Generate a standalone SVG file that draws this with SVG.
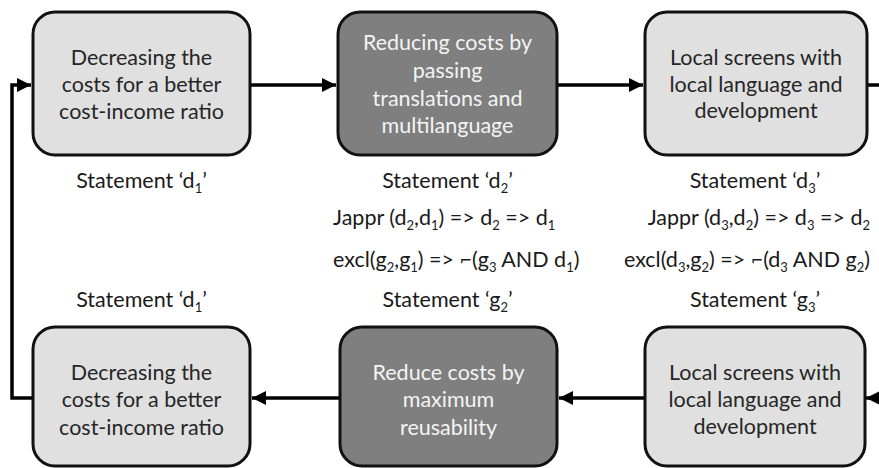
<svg xmlns="http://www.w3.org/2000/svg" width="879" height="468" viewBox="0 0 879 468">
  <style>
    .box { stroke: #111; stroke-width: 3; }
    .light { fill: #e0e0e0; }
    .dark { fill: #7f7f7f; }
    .t { font-family: Lato, "Open Sans", "DejaVu Sans", sans-serif; font-size: 21.5px; text-anchor: middle; }
    .tl { fill: #262626; }
    .td { fill: #f4f4f4; }
    .lbl { font-family: Lato, "Open Sans", "DejaVu Sans", sans-serif; font-size: 21.5px; fill: #1a1a1a; text-anchor: middle; }
    .start { text-anchor: start; }
    .end { text-anchor: end; }
    .sub { font-size: 13px; }
    .wire { fill: none; stroke: #000; stroke-width: 3.5; }
  </style>
  <defs>
    <marker id="head" viewBox="0 0 10 10" refX="10" refY="5" markerWidth="4" markerHeight="4" orient="auto" markerUnits="strokeWidth">
      <path d="M0,0 L10,5 L0,10 Z" fill="#000"/>
    </marker>
  </defs>
  <rect width="879" height="468" fill="#fff"/>

  <!-- connectors -->
  <g id="connectors">
    <line class="wire" x1="250" y1="85" x2="336" y2="85" marker-end="url(#head)"/>
    <line class="wire" x1="557" y1="85" x2="643" y2="85" marker-end="url(#head)"/>
    <line class="wire" x1="867" y1="85" x2="879" y2="85"/>
    <line class="wire" x1="879" y1="398" x2="866" y2="398" marker-end="url(#head)"/>
    <line class="wire" x1="645" y1="398" x2="559" y2="398" marker-end="url(#head)"/>
    <line class="wire" x1="340" y1="398" x2="252" y2="398" marker-end="url(#head)"/>
    <path class="wire" d="M33,398 H12 V85 H31" marker-end="url(#head)"/>
  </g>

  <!-- top row -->
  <g id="n-top-1">
    <rect class="box light" x="33" y="12" width="217" height="143" rx="22"/>
    <text class="t tl" x="141.5" y="65">Decreasing the</text>
    <text class="t tl" x="141.5" y="92">costs for a better</text>
    <text class="t tl" x="141.5" y="119">cost-income ratio</text>
  </g>
  <g id="n-top-2">
    <rect class="box dark" x="338" y="12" width="219" height="143" rx="22"/>
    <text class="t td" x="447.5" y="50">Reducing costs by</text>
    <text class="t td" x="447.5" y="78">passing</text>
    <text class="t td" x="447.5" y="106">translations and</text>
    <text class="t td" x="447.5" y="133">multilanguage</text>
  </g>
  <g id="n-top-3">
    <rect class="box light" x="645" y="12" width="222" height="143" rx="22"/>
    <text class="t tl" x="756" y="65">Local screens with</text>
    <text class="t tl" x="756" y="92">local language and</text>
    <text class="t tl" x="756" y="118">development</text>
  </g>

  <!-- statements and relations -->
  <g id="labels">
    <text class="lbl" x="141.5" y="188">Statement ‘d<tspan class="sub" dy="5">1</tspan><tspan dy="-5">’</tspan></text>
    <text class="lbl" x="447.5" y="188">Statement ‘d<tspan class="sub" dy="5">2</tspan><tspan dy="-5">’</tspan></text>
    <text class="lbl" x="755" y="188">Statement ‘d<tspan class="sub" dy="5">3</tspan><tspan dy="-5">’</tspan></text>

    <text class="lbl start" x="333" y="225">Jappr (d<tspan class="sub" dy="5">2</tspan><tspan dy="-5">,d</tspan><tspan class="sub" dy="5">1</tspan><tspan dy="-5">) =&gt; d</tspan><tspan class="sub" dy="5">2</tspan><tspan dy="-5"> =&gt; d</tspan><tspan class="sub" dy="5">1</tspan></text>
    <text class="lbl end" x="870" y="225">Jappr (d<tspan class="sub" dy="5">3</tspan><tspan dy="-5">,d</tspan><tspan class="sub" dy="5">2</tspan><tspan dy="-5">) =&gt; d</tspan><tspan class="sub" dy="5">3</tspan><tspan dy="-5"> =&gt; d</tspan><tspan class="sub" dy="5">2</tspan></text>

    <text class="lbl start" x="333" y="267">excl(g<tspan class="sub" dy="5">2</tspan><tspan dy="-5">,g</tspan><tspan class="sub" dy="5">1</tspan><tspan dy="-5">) =&gt; ⌐(g</tspan><tspan class="sub" dy="5">3</tspan><tspan dy="-5"> AND d</tspan><tspan class="sub" dy="5">1</tspan><tspan dy="-5">)</tspan></text>
    <text class="lbl end" x="870" y="267">excl(d<tspan class="sub" dy="5">3</tspan><tspan dy="-5">,g</tspan><tspan class="sub" dy="5">2</tspan><tspan dy="-5">) =&gt; ⌐(d</tspan><tspan class="sub" dy="5">3</tspan><tspan dy="-5"> AND g</tspan><tspan class="sub" dy="5">2</tspan><tspan dy="-5">)</tspan></text>

    <text class="lbl" x="141.5" y="307">Statement ‘d<tspan class="sub" dy="5">1</tspan><tspan dy="-5">’</tspan></text>
    <text class="lbl" x="447.5" y="307">Statement ‘g<tspan class="sub" dy="5">2</tspan><tspan dy="-5">’</tspan></text>
    <text class="lbl" x="755" y="307">Statement ‘g<tspan class="sub" dy="5">3</tspan><tspan dy="-5">’</tspan></text>
  </g>

  <!-- bottom row -->
  <g id="n-bot-1">
    <rect class="box light" x="33" y="327" width="217" height="139" rx="22"/>
    <text class="t tl" x="141.5" y="380">Decreasing the</text>
    <text class="t tl" x="141.5" y="407">costs for a better</text>
    <text class="t tl" x="141.5" y="435">cost-income ratio</text>
  </g>
  <g id="n-bot-2">
    <rect class="box dark" x="340" y="327" width="217" height="139" rx="22"/>
    <text class="t td" x="448.5" y="380">Reduce costs by</text>
    <text class="t td" x="448.5" y="407">maximum</text>
    <text class="t td" x="448.5" y="435">reusability</text>
  </g>
  <g id="n-bot-3">
    <rect class="box light" x="645" y="327" width="220" height="139" rx="22"/>
    <text class="t tl" x="755" y="380">Local screens with</text>
    <text class="t tl" x="755" y="407">local language and</text>
    <text class="t tl" x="755" y="434">development</text>
  </g>
</svg>
